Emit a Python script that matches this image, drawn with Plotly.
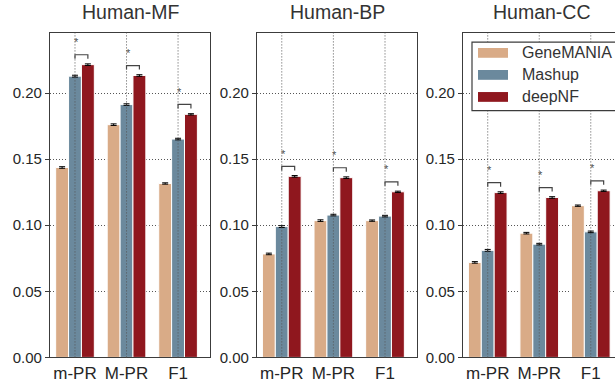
import plotly.graph_objects as go

# ---------------- data ----------------
panels = ["Human-MF", "Human-BP", "Human-CC"]
metrics = ["m-PR", "M-PR", "F1"]
methods = ["GeneMANIA", "Mashup", "deepNF"]

genemania = {
    "Human-MF": [0.1437, 0.1761, 0.1316],
    "Human-BP": [0.0783, 0.1035, 0.1035],
    "Human-CC": [0.0719, 0.0940, 0.1148],
}
mashup = {
    "Human-MF": [0.2128, 0.1913, 0.1652],
    "Human-BP": [0.0990, 0.1077, 0.1069],
    "Human-CC": [0.0810, 0.0857, 0.0950],
}
deepnf = {
    "Human-MF": [0.2215, 0.2133, 0.1839],
    "Human-BP": [0.1370, 0.1360, 0.1253],
    "Human-CC": [0.1247, 0.1210, 0.1261],
}
err_genemania = [0.0006, 0.0006, 0.0005]
err_mashup = [0.0007, 0.0006, 0.0006]
err_deepnf = [0.0006, 0.0006, 0.0005]

yticks = [0.0, 0.05, 0.10, 0.15, 0.20]

# ---------------- style ----------------
W, H = 615, 385
colors = {"GeneMANIA": "#d9ab87", "Mashup": "#6b899d", "deepNF": "#8f171e"}
bar_w = 0.25
offsets = [-0.25, 0.0, 0.25]
font_family = "Liberation Sans, Arial, sans-serif"
txt_col = "#262626"
axis_col = "#3c3c3c"
grid_col = "#555555"
grid_dash = "1px,2px"

# pixel layout (x px left/right for each panel)
px_dom = [(50, 210), (257, 417), (463, 615)]
title_cx = [131, 337, 542]
x_ranges = [[-0.485, 2.62], [-0.48, 2.62], [-0.48, 2.47]]
y_top_px, y_bot_px = 33.5, 365
y_dom = [(H - y_bot_px) / H, (H - y_top_px) / H]
y_range = [0, 0.2456]

fig = go.Figure()

values = {"GeneMANIA": genemania, "Mashup": mashup, "deepNF": deepnf}
errs = {"GeneMANIA": err_genemania, "Mashup": err_mashup, "deepNF": err_deepnf}

for pi, panel in enumerate(panels):
    xa = "x" if pi == 0 else f"x{pi+1}"
    ya = "y" if pi == 0 else f"y{pi+1}"
    for mi, m in enumerate(methods):
        fig.add_trace(go.Bar(
            x=[i + offsets[mi] for i in range(len(metrics))],
            y=values[m][panel],
            width=bar_w,
            marker=dict(color=colors[m], line=dict(color="white", width=1)),
            error_y=dict(type="data", array=errs[m], color="black",
                         thickness=1, width=3),
            name=m, showlegend=False,
            xaxis=xa, yaxis=ya,
        ))
    # vertical dotted grid drawn over the bars (as in the original)
    for i in range(len(metrics)):
        fig.add_shape(type="line", xref=xa, yref=f"{ya} domain",
                      x0=i, x1=i, y0=0, y1=1, layer="above",
                      line=dict(color=grid_col, width=1, dash=grid_dash))
    # significance brackets between Mashup and deepNF
    for i in range(len(metrics)):
        top = max(mashup[panel][i], deepnf[panel][i])
        base = top + 0.0045
        peak = base + 0.003
        xl, xr = i + offsets[1], i + offsets[2]
        fig.add_trace(go.Scatter(
            x=[xl, xl, xr, xr], y=[base, peak, peak, base],
            mode="lines", line=dict(color="#444444", width=1.2),
            showlegend=False, hoverinfo="skip", xaxis=xa, yaxis=ya,
        ))
        fig.add_annotation(
            x=xl + 0.03, y=peak + 0.0035, xref=xa, yref=ya,
            text="*", showarrow=False, yanchor="bottom",
            font=dict(size=11, color="#505050", family=font_family),
        )

    d0, d1 = px_dom[pi]
    xkey = "xaxis" if pi == 0 else f"xaxis{pi+1}"
    ykey = "yaxis" if pi == 0 else f"yaxis{pi+1}"
    fig.update_layout(**{
        xkey: dict(
            domain=[d0 / W, d1 / W], range=x_ranges[pi], anchor=ya,
            tickvals=list(range(len(metrics))), ticktext=metrics,
            showgrid=False,
            showline=True, linecolor=axis_col, linewidth=1.3, mirror=True,
            ticks="", zeroline=False, layer="above traces",
            tickfont=dict(size=17, color=txt_col, family=font_family),
            fixedrange=True,
        ),
        ykey: dict(
            domain=y_dom, range=y_range, anchor=xa,
            tickvals=yticks, ticktext=[f"{v:.2f}" for v in yticks],
            showgrid=True, gridcolor=grid_col, griddash=grid_dash, gridwidth=1,
            showline=True, linecolor=axis_col, linewidth=1.3,
            mirror=(pi != 2),
            ticks="outside", ticklen=4, tickcolor=axis_col,
            zeroline=False, layer="above traces",
            tickfont=dict(size=15, color=txt_col, family=font_family),
            fixedrange=True,
        ),
    })
    fig.add_annotation(
        x=title_cx[pi] / W, y=(H - 26) / H, xref="paper", yref="paper",
        text=panel, showarrow=False, xanchor="center", yanchor="bottom",
        font=dict(size=19.5, color="#333333", family=font_family),
    )

# ---------------- custom legend ----------------
lg_x0, lg_x1, lg_y0, lg_y1 = 472, 640, 43, 113
fig.add_shape(type="rect", xref="paper", yref="paper",
              x0=lg_x0 / W, x1=lg_x1 / W, y0=1 - lg_y1 / H, y1=1 - lg_y0 / H,
              line=dict(color="#3c3c3c", width=1.2), fillcolor="white",
              layer="above")
for k, m in enumerate(methods):
    cy = 54 + k * 22.5
    fig.add_shape(type="rect", xref="paper", yref="paper",
                  x0=478 / W, x1=508 / W, y0=1 - (cy + 5) / H, y1=1 - (cy - 5) / H,
                  line=dict(color=colors[m], width=0), fillcolor=colors[m],
                  layer="above")
    fig.add_annotation(x=520 / W, y=1 - cy / H, xref="paper", yref="paper",
                       text=m, showarrow=False, xanchor="left", yanchor="middle",
                       font=dict(size=16, color="#333333", family=font_family))

fig.update_layout(
    width=W, height=H,
    margin=dict(l=0, r=0, t=0, b=0),
    paper_bgcolor="white", plot_bgcolor="white",
    barmode="overlay", showlegend=False,
    font=dict(family=font_family, color=txt_col),
)

fig.write_html("out.html")
